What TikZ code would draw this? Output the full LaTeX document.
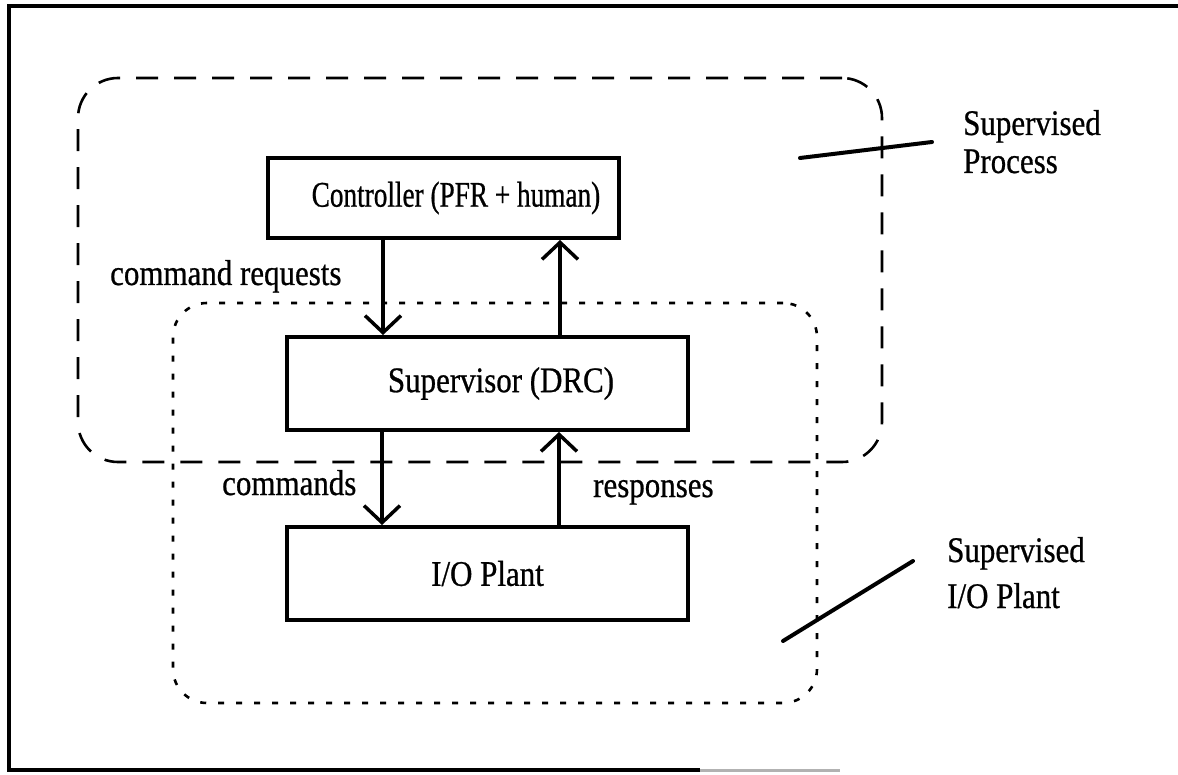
\documentclass[tikz,border=0pt]{standalone}
\usepackage{fontspec}
\setmainfont{Liberation Serif}[FakeStretch=0.86, FakeBold=0.7]
\usetikzlibrary{arrows.meta}
\begin{document}
\begin{tikzpicture}[x=1pt,y=-1pt,
  every node/.style={font=\fontsize{36}{40}\selectfont, inner sep=0pt},
  block/.style={draw, line width=4pt, rectangle},
  region/.style={line width=2.6pt, rounded corners=40pt},
  procregion/.style={region, dash pattern=on 22pt off 16pt},
  plantregion/.style={region, rounded corners=34pt, dash pattern=on 6pt off 12pt},
  flow/.style={line width=3.5pt, -{Straight Barb[length=17pt,width=36pt,line width=3.5pt]}},
  leader/.style={line width=4pt, line cap=round},
  lbl/.style={anchor=base west}]
  \useasboundingbox (0,0) rectangle (1178,775);

  % page frame
  \draw[line width=4pt] (1178,6) -- (9,6) -- (9,770) -- (700,770);
  \draw[line width=3pt, gray!60] (700,770) -- (840,770);

  % grouping regions
  \node[procregion, draw, minimum width=804pt, minimum height=384pt] (proc) at (480,270) {};
  \node[plantregion, draw, minimum width=644pt, minimum height=400pt] (plant) at (495,503) {};

  % blocks
  \node[block, minimum width=351pt, minimum height=80pt] (ctrl) at (443.5,198)
    {\hspace*{25pt}\scalebox{0.88}[1]{Controller (PFR + human)}};
  \node[block, minimum width=401pt, minimum height=93pt] (sup) at (487.5,383.5)
    {\hspace*{27pt}Supervisor (DRC)};
  \node[block, minimum width=401pt, minimum height=93pt] (io) at (487.5,573.5)
    {I/O Plant};

  % signal flows
  \draw[flow] ([xshift=-60.5pt]ctrl.south) -- ([xshift=-104.5pt]sup.north);
  \draw[flow] ([xshift=72.5pt]sup.north) -- ([xshift=116.5pt]ctrl.south);
  \draw[flow] ([xshift=-105.5pt]sup.south) -- ([xshift=-105.5pt]io.north);
  \draw[flow] ([xshift=71.5pt]io.north) -- ([xshift=71.5pt]sup.south);

  % flow labels
  \node[lbl] (lreq) at (110,285) {command requests};
  \node[lbl] (lcmd) at (222,495) {commands};
  \node[lbl] (lresp) at (593,497) {responses};

  % region labels with leaders
  \node[lbl] (sp1) at (963,135) {Supervised};
  \node[lbl] (sp2) at (963,173) {Process};
  \coordinate (lp1) at (800,158);
  \coordinate (lp2) at (932,142);
  \draw[leader] (lp1) -- (lp2);

  \node[lbl] (si1) at (947,562) {Supervised};
  \node[lbl] (si2) at (947,608) {I/O Plant};
  \coordinate (li1) at (783,641);
  \coordinate (li2) at (913,561);
  \draw[leader] (li1) -- (li2);
\end{tikzpicture}
\end{document}
